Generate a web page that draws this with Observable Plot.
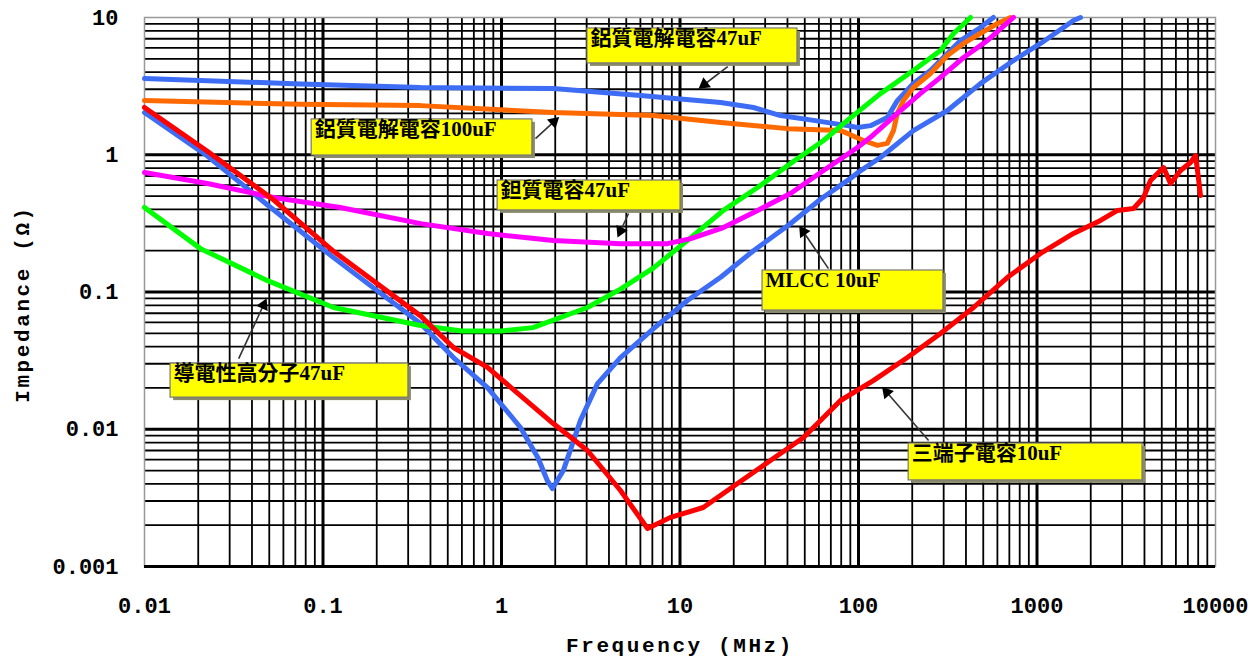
<!DOCTYPE html>
<html>
<head>
<meta charset="utf-8">
<script src="https://cdn.jsdelivr.net/npm/d3@7"></script>
<script src="https://cdn.jsdelivr.net/npm/@observablehq/plot@0.6"></script>
<style>
  body { margin: 0; background: #fff; }
  #chart svg { display: block; }
</style>
</head>
<body>
<div id="chart"></div>
<script>
// ---- axes ----
const xTicks = [0.01, 0.1, 1, 10, 100, 1000, 10000];
const yTicks = [0.001, 0.01, 0.1, 1, 10];
const gridMultipliers = [2, 3, 4, 5, 6, 7, 8, 9];
const xLabel = "Frequency (MHz)";
const yLabel = "Impedance (Ω)";

// ---- series (frequency MHz, impedance Ω) ----
const al47Name = "鋁質電解電容47uF";
const al47F = [0.01, 0.0748, 0.352, 1.95, 6.01, 16.9, 25.8, 36.6, 56, 86.7, 98.7, 116.7, 145, 165, 203, 253, 299, 373, 482, 570];
const al47Z = [3.59, 3.28, 3.09, 3.04, 2.70, 2.40, 2.21, 1.93, 1.78, 1.63, 1.58, 1.63, 1.87, 2.48, 3.30, 4.11, 5.11, 6.80, 8.45, 10];

const al100Name = "鋁質電解電容100uF";
const al100F = [0.01, 0.0748, 0.352, 1.95, 7.11, 16.9, 40, 79.3, 86.7, 106.6, 127.7, 145, 157, 165, 178.6, 203, 253, 315, 388, 482, 601, 711];
const al100Z = [2.48, 2.33, 2.28, 2.03, 1.93, 1.72, 1.55, 1.50, 1.43, 1.27, 1.17, 1.21, 1.50, 2.0, 2.48, 3.09, 3.91, 5.29, 6.47, 7.65, 9.04, 10];

const taName = "鉭質電容47uF";
const taF = [0.01, 0.0225, 0.0528, 0.125, 0.352, 0.835, 1.95, 4.64, 8.51, 11.5, 17.5, 27.2, 41.6, 63.7, 98.7, 116.7, 165, 222, 288, 388, 528, 738];
const taZ = [0.743, 0.618, 0.488, 0.413, 0.315, 0.267, 0.237, 0.225, 0.225, 0.245, 0.295, 0.393, 0.522, 0.767, 1.13, 1.34, 2.00, 2.79, 3.66, 5.11, 6.80, 10];

const mlccName = "MLCC 10uF";
const mlccF = [0.01, 0.0225, 0.0489, 0.1146, 0.352, 0.538, 0.835, 1.277, 1.6, 1.81, 1.93, 2.22, 2.77, 3.45, 4.64, 7.11, 11.0, 16.9, 25.8, 41, 62, 87, 99, 132.7, 203, 315, 482, 738, 1047, 1601, 1754];
const mlccZ = [2.03, 0.98, 0.43, 0.178, 0.0589, 0.0333, 0.0201, 0.0103, 0.0062, 0.0042, 0.0037, 0.0050, 0.0116, 0.0215, 0.0333, 0.0542, 0.0867, 0.128, 0.20, 0.31, 0.48, 0.65, 0.74, 0.955, 1.50, 2.10, 3.30, 4.86, 6.47, 9.51, 10];

const polyName = "導電性高分子47uF";
const polyF = [0.01, 0.0206, 0.0489, 0.1146, 0.352, 0.6, 1.0, 1.5, 3.03, 4.64, 7.11, 11.5, 17.5, 27.2, 41.6, 63.7, 86.7, 132.7, 203, 288, 341, 424];
const polyZ = [0.413, 0.207, 0.121, 0.0771, 0.057, 0.052, 0.052, 0.055, 0.0771, 0.105, 0.15, 0.249, 0.393, 0.577, 0.863, 1.27, 1.78, 2.79, 4.11, 5.75, 7.65, 10];

const threeName = "三端子電容10uF";
const threeF = [0.01, 0.0225, 0.0528, 0.1146, 0.352, 0.538, 0.835, 1.95, 3.03, 4.64, 6.58, 8.85, 13.5, 21.0, 32.1, 49.2, 79.3, 121, 188, 288, 441, 684, 1047, 1601, 2270, 2825, 3475, 3954, 4325, 5117, 5600, 6370, 7245, 7730, 7930, 8240];
const threeZ = [2.21, 1.06, 0.47, 0.198, 0.0670, 0.0394, 0.0282, 0.0110, 0.0070, 0.00358, 0.00189, 0.00228, 0.00269, 0.00402, 0.00592, 0.00871, 0.0162, 0.0226, 0.0333, 0.0499, 0.0771, 0.128, 0.191, 0.267, 0.332, 0.393, 0.406, 0.488, 0.649, 0.807, 0.618, 0.767, 0.879, 0.987, 0.767, 0.505];

// drawing order and colours
const seriesNames = [al47Name, al100Name, mlccName, polyName, taName, threeName];
const seriesF = [al47F, al100F, mlccF, polyF, taF, threeF];
const seriesZ = [al47Z, al100Z, mlccZ, polyZ, taZ, threeZ];
const seriesColors = ["#3d6cf5", "#ff6a00", "#3d6cf5", "#00ff00", "#ff00ff", "#ff0000"];

// ---- annotation callouts (box corners and arrows in data units) ----
const noteLabels = [al47Name, al100Name, taName, mlccName, polyName, threeName];
const noteX1 = [3.03, 0.0864, 0.951, 29.0, 0.0140, 191];
const noteX2 = [45.5, 1.49, 10.07, 299, 0.301, 3900];
const noteYTop = [8.32, 1.81, 0.649, 0.1435, 0.0301, 0.00787];
const noteYBottom = [4.63, 0.987, 0.393, 0.0733, 0.0170, 0.00424];
const arrowX1 = [18.5, 1.55, 5.15, 67.9, 0.0337, 247];
const arrowY1 = [4.39, 1.31, 0.373, 0.148, 0.0327, 0.00828];
const arrowX2 = [13.0, 2.06, 4.52, 47.3, 0.0477, 138];
const arrowY2 = [3.09, 1.84, 0.258, 0.295, 0.0867, 0.0198];

// ---- build tables ----
const decadesX = xTicks.slice(0, -1);
const decadesY = yTicks.slice(0, -1);
const xMinor = decadesX.flatMap(d => gridMultipliers.map(m => d * m));
const yMinor = decadesY.flatMap(d => gridMultipliers.map(m => d * m));

const notes = noteLabels.map((label, i) => ({
  label, x1: noteX1[i], x2: noteX2[i], y1: noteYTop[i], y2: noteYBottom[i],
  ax1: arrowX1[i], ay1: arrowY1[i], ax2: arrowX2[i], ay2: arrowY2[i]
}));

const monoFont = '"Liberation Mono", "DejaVu Sans Mono", monospace';
const noteFont = '"Liberation Serif", "Noto Sans CJK TC", serif';

const baseOptions = {
  width: 1258,
  height: 660,
  marginLeft: 144,
  marginRight: 43,
  marginTop: 17,
  marginBottom: 94,
  style: {background: "#fff", fontFamily: monoFont, fontSize: "22px", fontWeight: "bold", color: "#000"},
  x: {type: "log", domain: [0.01, 10000], ticks: xTicks, tickFormat: d => String(d), tickSize: 0, tickPadding: 31, label: null},
  y: {type: "log", domain: [0.001, 10], ticks: yTicks, tickFormat: d => String(d), tickSize: 0, tickPadding: 26, label: null}
};

// first pass: obtain the scales so arrowheads can be oriented along each arrow
const probe = Plot.plot({...baseOptions, marks: [Plot.frame()]});
const sx = probe.scale("x"), sy = probe.scale("y");
const heads = notes.map(n => {
  const px1 = sx.apply(n.ax1), py1 = sy.apply(n.ay1);
  const px2 = sx.apply(n.ax2), py2 = sy.apply(n.ay2);
  const len = Math.hypot(px2 - px1, py2 - py1);
  const ux = (px2 - px1) / len, uy = (py2 - py1) / len;
  const back = 5; // centre of the triangle sits a little behind the tip
  return {
    x: sx.invert(px2 - ux * back),
    y: sy.invert(py2 - uy * back),
    angle: Math.atan2(ux, -uy) * 180 / Math.PI
  };
});

const lineMarks = seriesNames.map((name, i) =>
  Plot.line(seriesF[i].map((f, j) => ({f, z: seriesZ[i][j]})),
    {x: "f", y: "z", stroke: seriesColors[i], strokeWidth: 5, strokeLinejoin: "round", strokeLinecap: "round"})
);

const chart = Plot.plot({
  ...baseOptions,
  marks: [
    Plot.ruleX(xMinor, {stroke: "#000", strokeWidth: 1.8}),
    Plot.ruleY(yMinor, {stroke: "#000", strokeWidth: 1.8}),
    Plot.ruleX(xTicks.slice(1, -1), {stroke: "#000", strokeWidth: 3}),
    Plot.ruleY(yTicks.slice(1, -1), {stroke: "#000", strokeWidth: 3}),
    Plot.frame({stroke: "#999", strokeWidth: 1.5}),
    Plot.ruleY([yTicks[0]], {stroke: "#000", strokeWidth: 3}),
    ...lineMarks,
    Plot.rect(notes, {x1: "x1", x2: "x2", y1: "y1", y2: "y2", fill: "#8a8a6a", dx: 3, dy: 3}),
    Plot.rect(notes, {x1: "x1", x2: "x2", y1: "y1", y2: "y2", fill: "#ffff00", stroke: "#777", strokeWidth: 1.2}),
    Plot.text(notes, {x: "x1", y: "y1", text: "label", textAnchor: "start", lineAnchor: "top", dx: 3, dy: 2,
      fontSize: 21, fontWeight: "bold", fontFamily: noteFont, fill: "#000"}),
    Plot.link(notes, {x1: "ax1", y1: "ay1", x2: "ax2", y2: "ay2", stroke: "#333", strokeWidth: 1.6}),
    Plot.dot(heads, {x: "x", y: "y", rotate: "angle", symbol: "triangle2", r: 6, fill: "#000", stroke: "none"}),
    Plot.text([xLabel], {frameAnchor: "bottom", lineAnchor: "middle", textAnchor: "middle", dy: 79, text: d => d,
      fontSize: 21, fontWeight: "bold", fontFamily: monoFont, fill: "#000"}),
    Plot.text([yLabel], {frameAnchor: "left", lineAnchor: "middle", textAnchor: "middle", dx: -122, dy: 12, rotate: -90, text: d => d,
      fontSize: 21, fontWeight: "bold", fontFamily: monoFont, fill: "#000"})
  ]
});

// widen the letter spacing of the axis titles to match the original lettering
d3.select(chart).selectAll("text").each(function() {
  const t = this.textContent;
  if (t === xLabel || t === yLabel) d3.select(this).attr("letter-spacing", "2.6px");
});

document.getElementById("chart").appendChild(chart);
</script>
</body>
</html>
